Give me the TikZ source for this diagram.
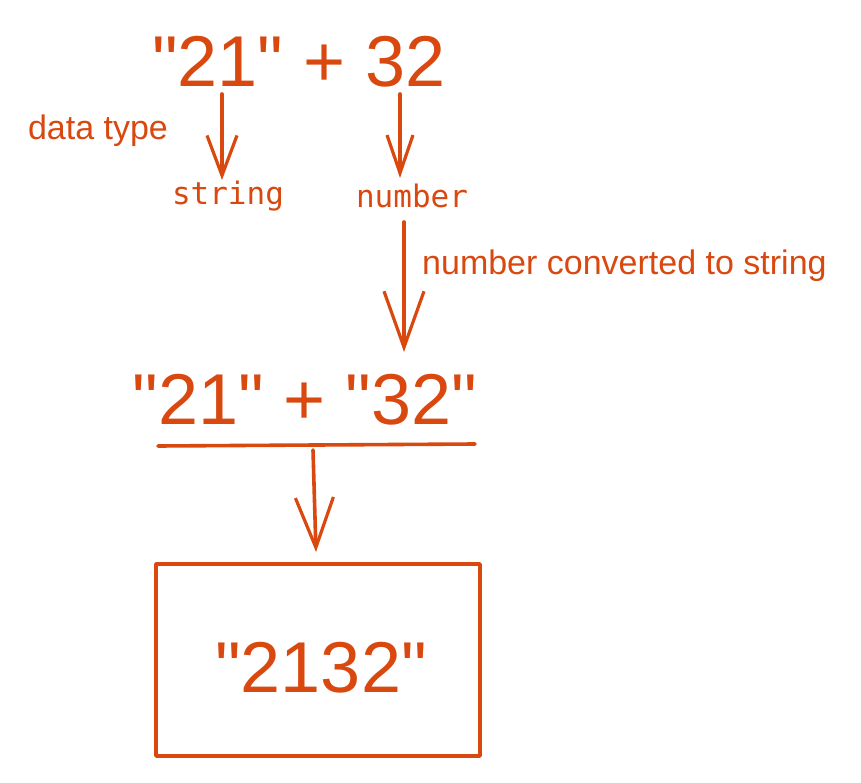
\documentclass[tikz,border=0pt]{standalone}
\usepackage{fontspec}
\setmainfont{Liberation Sans}
\newfontfamily\codefont{DejaVu Sans Mono}
\newfontfamily\handfont{Liberation Sans}
\usetikzlibrary{arrows.meta,positioning}
\definecolor{XOrange}{HTML}{D9480F}
\newcommand{\q}{\textquotedbl}

\begin{document}
\begin{tikzpicture}[
    x=1pt, y=-1pt,
    every node/.style={text=XOrange, inner sep=0pt},
    bigtext/.style={font=\fontsize{72}{72}\selectfont},
    codetext/.style={font=\codefont\fontsize{31}{31}\selectfont},
    handtext/.style={font=\handfont\fontsize{34}{34}\selectfont},
    sketch/.style={draw=XOrange, line width=3.6pt, line cap=round, line join=round},
    barb/.style 2 args={sketch, -{Straight Barb[length=#1pt, width=#2pt, line width=3.2pt]}}
 ]
\useasboundingbox (0,0) rectangle (861,783);

% first sum and its types
\node[bigtext] (sumA) at (299,62) {\q21\q{} + 32};
\node[codetext] (typeStr) at (228,196) {string};
\node[codetext] (typeNum) at (412,196) {number};
\node[handtext] (lblType) at (98,131) {data type};

\coordinate (fromStr) at (222,94);
\coordinate (toStr) at (222,180);
\coordinate (fromNum) at (400,94);
\coordinate (toNum) at (400,178);
\draw[barb={40}{30}] (fromStr) -- (toStr);
\draw[barb={38}{26}] (fromNum) -- (toNum);

% conversion
\coordinate (fromConv) at (404,222);
\coordinate (toConv) at (404,352);
\draw[barb={56}{40}] (fromConv) -- (toConv);
\node[handtext, anchor=west] (lblConv) at (422,266) {number converted to string};

% second sum
\node[bigtext] (sumB) at (305,400) {\q21\q{} + \q32\q};
\coordinate (lineL) at (158,446);
\coordinate (lineR) at (475,444);
\draw[sketch] (lineL) -- (lineR);
\coordinate (fromSum) at (313,450);
\coordinate (toSum) at (316,552);
\draw[barb={50}{38}] (fromSum) -- (toSum);

% result
\node[sketch, minimum width=324pt, minimum height=192pt] (result) at (318,660) {};
\node[bigtext] (resText) at (321,668) {\q2132\q};

\end{tikzpicture}
\end{document}
